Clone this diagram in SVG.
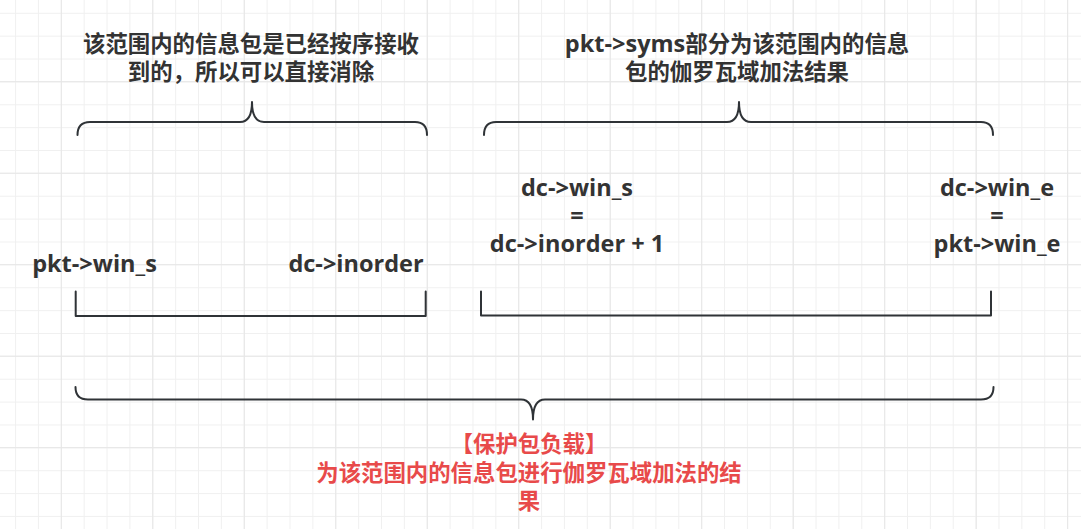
<svg xmlns="http://www.w3.org/2000/svg" width="1081" height="529" viewBox="0 0 1081 529">
<style>
.t{font-family:"Open Sans","Noto Sans CJK SC",sans-serif;font-weight:bold;font-size:22.4px;fill:#333333;text-anchor:middle}
.l{font-size:23.5px}
.r{fill:#e84a4a}
.b{fill:none;stroke:#2f3337;stroke-width:2;stroke-linecap:round;stroke-linejoin:round}
</style>
<defs>
<pattern id="minor" patternUnits="userSpaceOnUse" x="15.06" y="12.8" width="22.87" height="22.87">
<path d="M0 0.5H22.87M0.5 0V22.87" fill="none" stroke="#f0f0f0" stroke-width="1"/>
</pattern>
<pattern id="major" patternUnits="userSpaceOnUse" x="60.8" y="81.2" width="91.49" height="91.49">
<path d="M0 0.5H91.49M0.5 0V91.49" fill="none" stroke="#e6e6e6" stroke-width="1"/>
</pattern>
</defs>
<rect width="1081" height="529" fill="#ffffff"/>
<rect width="1081" height="529" fill="url(#minor)"/>
<rect width="1081" height="529" fill="url(#major)"/>
<g id="connectors">
<path id="brace-top-left" class="b" d="M77.5 135Q77.5 122 90 122L240 122Q252 122 252 102Q252 122 264 122L415 122Q427 122 427 135"/>
<path id="brace-top-right" class="b" d="M484 135Q484 122 496 122L727 122Q739 122 739 102Q739 122 751 122L981 122Q993 122 993 135"/>
<path id="bracket-left" class="b" d="M75.7 291.5V316H425.7V291.5"/>
<path id="bracket-right" class="b" d="M481 291.5V315.5H991V291.5"/>
<path id="brace-bottom" class="b" d="M75.5 387Q75.5 399.5 88 399.5L521 399.5Q533 399.5 533 419.5Q533 399.5 545 399.5L981 399.5Q993.5 399.5 993.5 387"/>
</g>
<g id="note-left">
<text class="t" x="251" y="52">该范围内的信息包是已经按序接收<tspan x="251" dy="28">到的，所以可以直接消除</tspan></text>
</g>
<g id="note-right">
<text class="t" x="737" y="52"><tspan class="l">pkt-&gt;syms</tspan>部分为该范围内的信息<tspan x="737" dy="28">包的伽罗瓦域加法结果</tspan></text>
</g>
<g id="label-pkt-win-s">
<text class="t l" x="94.5" y="272">pkt-&gt;win_s</text>
</g>
<g id="label-dc-inorder">
<text class="t l" x="356" y="272">dc-&gt;inorder</text>
</g>
<g id="label-dc-win-s">
<text class="t l" x="577" y="196">dc-&gt;win_s<tspan x="577" dy="28">=</tspan><tspan x="577" dy="28">dc-&gt;inorder + 1</tspan></text>
</g>
<g id="label-dc-win-e">
<text class="t l" x="997" y="196">dc-&gt;win_e<tspan x="997" dy="28">=</tspan><tspan x="997" dy="28">pkt-&gt;win_e</tspan></text>
</g>
<g id="note-bottom">
<text class="t r" x="529" y="452">【保护包负载】<tspan x="529" dy="29">为该范围内的信息包进行伽罗瓦域加法的结</tspan><tspan x="529" dy="28">果</tspan></text>
</g>
</svg>
